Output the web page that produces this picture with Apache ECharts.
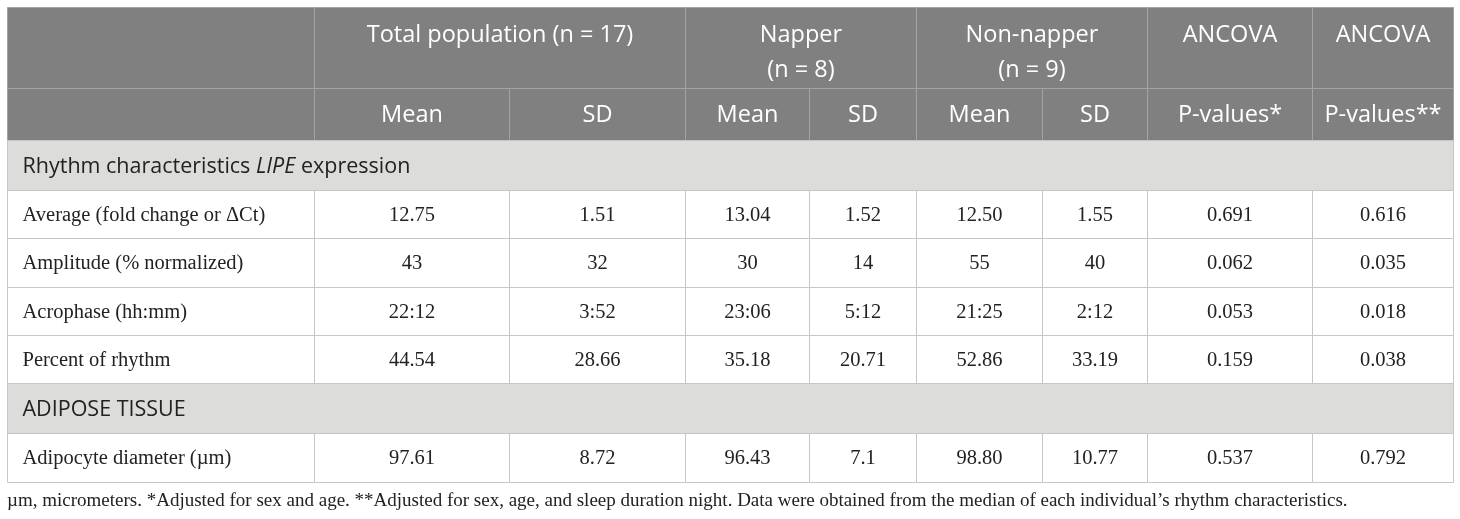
<!DOCTYPE html>
<html>
<head>
<meta charset="utf-8">
<script src="https://cdn.jsdelivr.net/npm/echarts@6/dist/echarts.min.js"></script>
<style>
  html, body { margin: 0; padding: 0; background: #fff; }
  #main { width: 1460px; height: 519px; }
</style>
</head>
<body>
<div id="main"></div>
<script>
// table content
var groupHeaders = ['Total population (n = 17)', 'Napper\n(n = 8)', 'Non-napper\n(n = 9)', 'ANCOVA', 'ANCOVA'];
var groupSpans = [2, 2, 2, 1, 1];
var subHeaders = ['Mean', 'SD', 'Mean', 'SD', 'Mean', 'SD', 'P-values*', 'P-values**'];

var rhythmTitle = 'Rhythm characteristics {i|LIPE} expression';
var rhythmLabels = ['Average (fold change or \u0394Ct)', 'Amplitude (% normalized)', 'Acrophase (hh:mm)', 'Percent of rhythm'];
var rhythmValues = [
  ['12.75', '1.51', '13.04', '1.52', '12.50', '1.55', '0.691', '0.616'],
  ['43', '32', '30', '14', '55', '40', '0.062', '0.035'],
  ['22:12', '3:52', '23:06', '5:12', '21:25', '2:12', '0.053', '0.018'],
  ['44.54', '28.66', '35.18', '20.71', '52.86', '33.19', '0.159', '0.038']
];

var adiposeTitle = 'ADIPOSE TISSUE';
var adiposeLabels = ['Adipocyte diameter (\u00b5m)'];
var adiposeValues = [
  ['97.61', '8.72', '96.43', '7.1', '98.80', '10.77', '0.537', '0.792']
];

var footnote = '\u00b5m, micrometers. *Adjusted for sex and age. **Adjusted for sex, age, and sleep duration night. Data were obtained from the median of each individual\u2019s rhythm characteristics.';

// layout (px)
var colWidths = [307, 195, 176, 124, 107, 126, 105, 165, 141];
var rowHeights = [81, 52, 50, 48, 49, 48, 48, 50, 49];

var SANS = '"Open Sans", "Noto Sans", sans-serif';
var SERIF = '"Liberation Serif", "DejaVu Serif", serif';

function edges(sizes) {
  var out = [0];
  for (var i = 0; i < sizes.length; i++) out.push(out[i] + sizes[i]);
  return out;
}
var xs = edges(colWidths);
var ys = edges(rowHeights);
var totalW = xs[xs.length - 1];
var totalH = ys[ys.length - 1];

var cells = [];
function addCell(c0, c1, r0, r1, text, kind) {
  cells.push({ value: [xs[c0], ys[r0], xs[c1], ys[r1]], text: text, kind: kind });
}

var row = 0;
// header rows
addCell(0, 1, 0, 1, '', 'head');
addCell(0, 1, 1, 2, '', 'head');
var c = 1;
for (var g = 0; g < groupHeaders.length; g++) {
  addCell(c, c + groupSpans[g], 0, 1, groupHeaders[g], 'group');
  c += groupSpans[g];
}
for (var s = 0; s < subHeaders.length; s++) {
  addCell(s + 1, s + 2, 1, 2, subHeaders[s], 'sub');
}
row = 2;

function addBlock(title, labels, values) {
  addCell(0, xs.length - 1, row, row + 1, title, 'section');
  row++;
  for (var i = 0; i < labels.length; i++) {
    addCell(0, 1, row, row + 1, labels[i], 'label');
    for (var j = 0; j < values[i].length; j++) {
      addCell(j + 1, j + 2, row, row + 1, values[i][j], 'value');
    }
    row++;
  }
}
addBlock(rhythmTitle, rhythmLabels, rhythmValues);
addBlock(adiposeTitle, adiposeLabels, adiposeValues);

function px(v) { return Math.round(v) + 0.5; }

function renderCell(params, api) {
  var cell = cells[params.dataIndex];
  var p0 = api.coord([api.value(0), api.value(1)]);
  var p1 = api.coord([api.value(2), api.value(3)]);
  var x0 = px(p0[0]), y0 = px(p0[1]), x1 = px(p1[0]), y1 = px(p1[1]);
  var k = cell.kind;
  var isHead = k === 'head' || k === 'group' || k === 'sub';
  var fill = isHead ? '#808080' : (k === 'section' ? '#dcdcdb' : '#ffffff');
  var stroke = isHead ? '#a3a3a3' : '#c6c6c6';

  var txt = { text: cell.text, fill: '#222', fontFamily: SERIF, fontSize: 20.5, verticalAlign: 'middle', align: 'center' };
  var tx = (x0 + x1) / 2, ty = (y0 + y1) / 2 + 1;
  if (k === 'group') {
    txt.fill = '#fff'; txt.fontFamily = SANS; txt.fontSize = 23.5; txt.lineHeight = 35;
    txt.verticalAlign = 'top'; ty = y0 + 10;
  } else if (k === 'sub') {
    txt.fill = '#fff'; txt.fontFamily = SANS; txt.fontSize = 23.5;
  } else if (k === 'section') {
    txt.fontFamily = SANS; txt.fontSize = 21.5; txt.align = 'left'; tx = x0 + 15;
    txt.rich = { i: { fontFamily: SANS, fontSize: 21.5, fontStyle: 'italic', fill: '#222' } };
  } else if (k === 'label') {
    txt.align = 'left'; tx = x0 + 15;
  }

  return {
    type: 'group',
    children: [
      { type: 'rect', shape: { x: x0, y: y0, width: x1 - x0, height: y1 - y0 }, style: { fill: fill, stroke: stroke, lineWidth: 1 } },
      { type: 'text', x: tx, y: ty, style: txt }
    ]
  };
}

var chart = echarts.init(document.getElementById('main'));
var option = {
  animation: false,
  title: {
    text: footnote,
    left: 7,
    top: 492,
    padding: 0,
    textStyle: { fontFamily: SERIF, fontSize: 19, fontWeight: 'normal', color: '#222' }
  },
  grid: { left: 7, top: 7, width: totalW, height: totalH },
  xAxis: { type: 'value', min: 0, max: totalW, show: false },
  yAxis: { type: 'value', min: 0, max: totalH, inverse: true, show: false },
  series: [{
    type: 'custom',
    renderItem: renderCell,
    data: cells,
    encode: { x: [0, 2], y: [1, 3] },
    silent: true
  }]
};
chart.setOption(option);
</script>
</body>
</html>
